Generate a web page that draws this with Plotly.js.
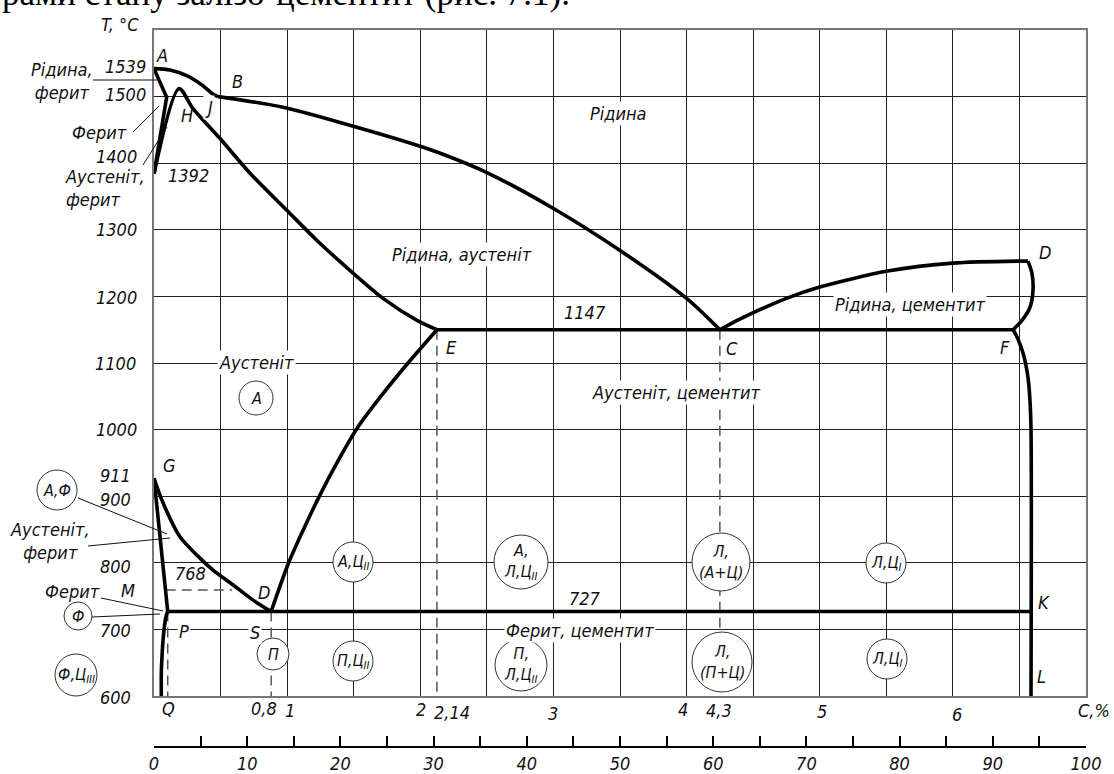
<!DOCTYPE html>
<html>
<head>
<meta charset="utf-8">
<script src="https://cdn.plot.ly/plotly-3.0.1.min.js"></script>
<style>html,body{margin:0;padding:0;background:#fff;}#chart{width:1114px;height:774px;}</style>
</head>
<body>
<div id="chart"></div>
<script>
// ---------- phase-boundary data (C %, T °C) as drawn ----------
const AB_x = [0, 0.12, 0.25, 0.37, 0.44, 0.48];
const AB_T = [1542, 1540, 1531, 1516, 1504, 1500];
const BC_x = [0.48, 0.97, 1.47, 1.975, 2.15, 2.50, 3.00, 3.50, 4.00, 4.25];
const BC_T = [1500, 1484, 1457, 1427, 1415, 1386, 1332, 1269, 1197, 1150];
const CD_x = [4.25, 4.40, 4.75, 5.00, 5.51, 6.00, 6.50, 6.564];
const CD_T = [1150, 1166, 1197, 1214, 1238, 1250, 1253, 1253];
const DF_x = [6.564, 6.594, 6.602, 6.58, 6.519, 6.452];
const DF_T = [1253, 1235, 1209, 1184, 1164, 1150];
const FKL_x = [6.452, 6.482, 6.527, 6.564, 6.579, 6.587, 6.587];
const FKL_T = [1150, 1139, 1115, 1079, 1044, 1000, 600];
const ECF_x = [2.125, 6.452];
const ECF_T = [1150, 1150];
const PSK_x = [0.103, 6.587];
const PSK_T = [727, 727];
const AN_x = [0, 0.095, 0];
const AN_T = [1542, 1499, 1384];
const NHE_x = [0, 0.188, 0.293, 0.496, 0.721, 0.999, 1.224, 1.495, 1.720, 1.975, 2.125];
const NHE_T = [1384, 1512, 1482, 1437, 1385, 1329, 1284, 1235, 1197, 1164, 1150];
const GS_x = [0, 0.068, 0.195, 0.345, 0.443, 0.593, 0.744, 0.880];
const GS_T = [927, 890, 839, 807, 789, 767, 744, 727];
const GP_x = [0, 0.103];
const GP_T = [927, 727];
const PQ_x = [0.103, 0.090, 0.070, 0.060, 0.055, 0.055];
const PQ_T = [727, 719, 689, 659, 635, 600];
const SE_x = [0.880, 1.009, 1.127, 1.247, 1.382, 1.522, 1.712, 1.908, 2.125];
const SE_T = [727, 799, 852, 902, 953, 1001, 1052, 1100, 1150];

// dashed construction lines
const dashV_x = [0.103, 0.880, 2.125, 4.25];
const dashV_Ttop = [727, 727, 1150, 1150];
const dashMO_x = [0.088, 0.585];
const dashMO_T = [759, 759];

// tick labels
const tempLabels = ['1539', '1500', '1400', '1300', '1200', '1100', '1000', '911', '900', '800', '700', '600'];
const carbonLabels = ['Q', '0,8', '1', '2', '2,14', '3', '4', '4,3', '5', '6', 'C,%'];
const scaleVals = [0, 10, 20, 30, 40, 50, 60, 70, 80, 90, 100];
const scaleText = ['0', '10', '20', '30', '40', '50', '60', '70', '80', '90', '100'];

// ---------- helpers (pixel -> paper) ----------
const PX = X => (X - 154) / 932;
const PY = Y => (747 - Y) / 717;
const FONT = 'Liberation Sans Narrow, DejaVu Sans Condensed, DejaVu Sans, sans-serif';
const FS = 18;

const traces = [];
function dashed(x, y) {
  traces.push({x: x, y: y, mode: 'lines', line: {color: '#555', width: 1.5, dash: '10px,6px'}, hoverinfo: 'skip', showlegend: false});
}
dashV_x.forEach((x, i) => dashed([x, x], [dashV_Ttop[i], 600]));
dashed(dashMO_x, dashMO_T);

function thick(x, y) {
  traces.push({x: x, y: y, mode: 'lines', line: {color: '#000', width: 3.6, shape: 'spline', smoothing: 0.8}, hoverinfo: 'skip', showlegend: false});
}
function thickStraight(x, y) {
  traces.push({x: x, y: y, mode: 'lines', line: {color: '#000', width: 3.6}, hoverinfo: 'skip', showlegend: false});
}
thick(AB_x, AB_T);
thick(BC_x, BC_T);
thick(CD_x, CD_T);
thick(DF_x, DF_T);
thick(FKL_x, FKL_T);
thickStraight(ECF_x, ECF_T);
thickStraight(PSK_x, PSK_T);
thickStraight(AN_x, AN_T);
thick(NHE_x, NHE_T);
thick(GS_x, GS_T);
thickStraight(GP_x, GP_T);
thick(PQ_x, PQ_T);
thick(SE_x, SE_T);
// carrier for the lower scale axis
traces.push({x: [0, 100], y: [600, 600], xaxis: 'x2', yaxis: 'y', mode: 'markers', marker: {opacity: 0}, hoverinfo: 'skip', showlegend: false});

// ---------- annotations ----------
const ann = [];
function txt(text, X, Y, o) {
  o = o || {};
  ann.push(Object.assign({
    text: text, xref: 'paper', yref: 'paper', x: PX(X), y: PY(Y),
    xanchor: 'center', yanchor: 'middle', showarrow: false,
    font: {family: FONT, size: FS, color: '#111', style: 'italic'}
  }, o));
}
// temperature labels
const tempPos = [[148, 66], [148, 94], [139, 156], [139, 230], [139, 297], [138, 363], [139, 429], [133, 476], [133, 499], [133, 566], [133, 630], [133, 697]];
tempLabels.forEach((t, i) => txt(t, tempPos[i][0], tempPos[i][1], {xanchor: 'right'}));
txt('768', 190, 573);
txt('1392', 188, 176);
// carbon labels
const carbonPos = [[168, 708], [264, 708], [290, 710], [421, 709], [452, 712], [553, 713], [683, 709], [719, 710], [822, 711], [957, 714], [1094, 710]];
carbonLabels.forEach((t, i) => txt(t, carbonPos[i][0], carbonPos[i][1]));
txt('T, °C', 120, 24);
// point letters
[['A', 162, 55], ['B', 237, 82], ['H', 187, 115], ['E', 451, 347], ['C', 732, 348], ['F', 1005, 347],
 ['D', 1045, 252], ['G', 169, 465], ['D', 264, 592], ['M', 128, 590], ['K', 1044, 602], ['L', 1041, 676]]
  .forEach(a => txt(a[0], a[1], a[2]));
const bgw = {bgcolor: '#fff', borderpad: 1};
txt('J', 209, 107, bgw);
txt('P', 184, 631, bgw);
txt('S', 255, 632, bgw);
// phase fields
txt('Рідина', 618, 113, bgw);
txt('Рідина, аустеніт', 462, 254, bgw);
txt('1147', 585, 312);
txt('Аустеніт', 256, 362, bgw);
txt('Аустеніт, цементит', 676, 392, bgw);
txt('Рідина, цементит', 910, 305, bgw);
txt('727', 585, 598);
txt('Ферит, цементит', 580, 630, bgw);
// left-side callouts
txt('Рідина,<br>ферит', 62, 81);
txt('Ферит', 99, 132);
txt('Аустеніт,<br>ферит', 63, 188, {xanchor: 'left', align: 'left'});
txt('Аустеніт,<br>ферит', 50, 541);
txt('Ферит', 72, 591);
// circled structure labels
const circles = [
  ['А', 256, 398, 17], ['А,Ф', 57, 490, 20], ['Ф', 78, 616, 14], ['Ф,Ц<sub>III</sub>', 76, 675, 21],
  ['П', 273, 654, 16], ['П,Ц<sub>II</sub>', 353, 661, 20], ['П,<br>Л,Ц<sub>II</sub>', 521, 665, 26],
  ['А,Ц<sub>II</sub>', 353, 562, 20], ['А,<br>Л,Ц<sub>II</sub>', 521, 562, 27],
  ['Л,<br>(А+Ц)', 721, 562, 29], ['Л,<br>(П+Ц)', 722, 662, 30],
  ['Л,Ц<sub>I</sub>', 886, 563, 20], ['Л,Ц<sub>I</sub>', 887, 659, 20]
];
const shapes = [];
circles.forEach(c => {
  const [t, cx, cy, r] = c;
  shapes.push({type: 'circle', xref: 'paper', yref: 'paper', layer: 'above',
    x0: PX(cx - r), x1: PX(cx + r), y0: PY(cy + r), y1: PY(cy - r),
    line: {color: '#333', width: 1}, fillcolor: '#fff'});
  txt(t, cx, cy, {font: {family: FONT, size: 16, color: '#111', style: 'italic'}});
});
// leader lines
[[93, 80, 157, 80], [133, 132, 159, 106], [143, 165, 167, 127], [78, 498, 167, 534],
 [88, 546, 170, 538], [101, 598, 163, 611], [92, 617, 160, 614]].forEach(l => {
  shapes.push({type: 'line', xref: 'paper', yref: 'paper', layer: 'above',
    x0: PX(l[0]), y0: PY(l[1]), x1: PX(l[2]), y1: PY(l[3]), line: {color: '#111', width: 1}});
});
// cut-off document line above the chart
ann.push({text: 'рами стану залізо-цементит (рис. 7.1).', xref: 'paper', yref: 'paper',
  x: PX(0), y: PY(15), xanchor: 'left', yanchor: 'bottom', showarrow: false,
  font: {family: 'Liberation Serif, Times New Roman, serif', size: 35, color: '#000', style: 'normal'}});

const axBase = {showgrid: true, gridcolor: '#222', gridwidth: 1, zeroline: false, showline: true,
  mirror: true, linecolor: '#777', linewidth: 2, showticklabels: false, ticks: '', fixedrange: true};
const layout = {
  width: 1114, height: 774,
  margin: {l: 154, r: 28, t: 30, b: 27},
  paper_bgcolor: '#fff', plot_bgcolor: '#fff',
  font: {family: FONT, size: FS, color: '#111', style: 'italic'},
  showlegend: false,
  xaxis: Object.assign({}, axBase, {range: [0, 7], dtick: 0.5, tick0: 0, anchor: 'y'}),
  yaxis: Object.assign({}, axBase, {range: [600, 1600], dtick: 100, tick0: 600, domain: [0.0711, 1]}),
  xaxis2: {range: [0, 100], domain: [0.00536, 0.941], anchor: 'free', position: 0, overlaying: 'x',
    showline: true, linecolor: '#000', linewidth: 2, ticks: 'inside', ticklen: 10, tickwidth: 2,
    tickcolor: '#000', tickmode: 'array', tickvals: scaleVals, ticktext: scaleText, showgrid: false, zeroline: false,
    minor: {ticks: 'inside', ticklen: 10, tickwidth: 2, tickcolor: '#000', dtick: 5, tick0: 0, showgrid: false},
    tickfont: {family: FONT, size: FS, color: '#111', style: 'italic'}, ticklabelstandoff: 0, fixedrange: true},
  annotations: ann,
  shapes: shapes
};
Plotly.newPlot('chart', traces, layout, {displayModeBar: false, staticPlot: true});
</script>
</body>
</html>
